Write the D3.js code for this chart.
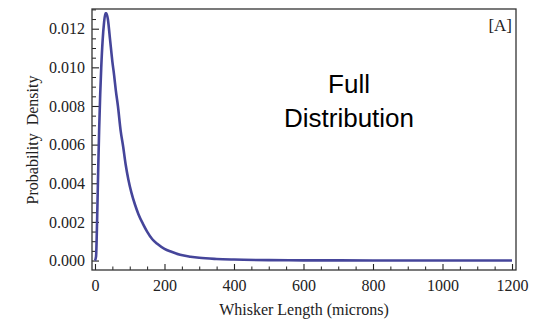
<!DOCTYPE html>
<html>
<head>
<meta charset="utf-8">
<script src="https://cdn.jsdelivr.net/npm/d3@7"></script>
<style>
  html, body { margin: 0; padding: 0; background: #fff; }
  svg { display: block; }
</style>
</head>
<body>
<svg id="chart" width="534" height="324"></svg>
<script>
// Whisker length density curve
const lengths = [0, 3, 6, 9, 12, 15, 18, 22, 26, 30, 33, 37, 43, 50, 55, 60, 66, 74, 81, 88, 96, 105, 115, 125, 138, 150, 165, 180, 200, 220, 245, 275, 300, 350, 400, 500, 600, 800, 1000, 1200];
const density = [0, 0.0002, 0.002, 0.0045, 0.0068, 0.0086, 0.0100, 0.0114, 0.0123, 0.0128, 0.0128, 0.0125, 0.0115, 0.0103, 0.0096, 0.0088, 0.0080, 0.0067, 0.0059, 0.0050, 0.0042, 0.0035, 0.0029, 0.0024, 0.0019, 0.0015, 0.0011, 0.00085, 0.0006, 0.00045, 0.0003, 0.0002, 0.00014, 0.00008, 0.00005, 0.00002, 0.00001, 0.000004, 0.000001, 0];

const xMajor = [0, 200, 400, 600, 800, 1000, 1200];
const yMajor = [0, 0.002, 0.004, 0.006, 0.008, 0.010, 0.012];
const xTitle = "Whisker Length (microns)";
const yTitle = "Probability\u00a0\u00a0Density";
const panelTag = "[A]";
const noteLines = ["Full", "Distribution"];

const svg = d3.select("#chart");
const frame = { left: 92, right: 516, top: 9, bottom: 270 };

const x = d3.scaleLinear().domain([-8.6, 1211.5]).range([frame.left, frame.right]);
const y = d3.scaleLinear().domain([-0.00049, 0.01302]).range([frame.bottom, frame.top]);

const serif = "'Liberation Serif', 'Times New Roman', serif";
const ink = "#222";

// Minor tick positions
const xMinor = d3.range(0, 1201, 50).filter(v => v % 200 !== 0);
const yMinor = d3.range(0, 0.01301, 0.0005).filter(v => Math.abs(Math.round(v / 0.002) * 0.002 - v) > 1e-9);

const g = svg.append("g");

// Bottom axis: ticks point into the plot
const xAxis = d3.axisBottom(x).tickValues(xMajor).tickSize(-6).tickPadding(12).tickFormat(d3.format("d"));
const xg = g.append("g").attr("transform", `translate(0,${frame.bottom})`).call(xAxis);
xg.select(".domain").remove();
xg.selectAll(".tick line").attr("stroke", ink).attr("stroke-width", 1.1);
xg.selectAll(".tick text").attr("font-family", serif).attr("font-size", 16).attr("fill", ink).attr("dy", "0.55em");

const xMin = d3.axisBottom(x).tickValues(xMinor).tickSize(-3.5).tickFormat("");
const xmg = g.append("g").attr("transform", `translate(0,${frame.bottom})`).call(xMin);
xmg.select(".domain").remove();
xmg.selectAll(".tick line").attr("stroke", ink).attr("stroke-width", 1);

// Left axis: ticks point into the plot
const yAxis = d3.axisLeft(y).tickValues(yMajor).tickSize(-7).tickPadding(7).tickFormat(d3.format(".3f"));
const yg = g.append("g").attr("transform", `translate(${frame.left},0)`).call(yAxis);
yg.select(".domain").remove();
yg.selectAll(".tick line").attr("stroke", ink).attr("stroke-width", 1.1);
yg.selectAll(".tick text").attr("font-family", serif).attr("font-size", 16).attr("fill", ink);

const yMin = d3.axisLeft(y).tickValues(yMinor).tickSize(-4).tickFormat("");
const ymg = g.append("g").attr("transform", `translate(${frame.left},0)`).call(yMin);
ymg.select(".domain").remove();
ymg.selectAll(".tick line").attr("stroke", ink).attr("stroke-width", 1);

// Density curve
const pts = lengths.map((v, i) => [v, density[i]]);
const line = d3.line().x(d => x(d[0])).y(d => y(d[1])).curve(d3.curveMonotoneX);
svg.append("defs").append("clipPath").attr("id", "plotClip")
  .append("rect").attr("x", frame.left).attr("y", frame.top - 3)
  .attr("width", frame.right - frame.left).attr("height", frame.bottom - frame.top + 3);
svg.append("path").datum(pts)
  .attr("clip-path", "url(#plotClip)")
  .attr("d", line)
  .attr("fill", "none")
  .attr("stroke", "#45459a")
  .attr("stroke-width", 2.6)
  .attr("stroke-linejoin", "round");

// Frame
svg.append("rect")
  .attr("x", frame.left).attr("y", frame.top)
  .attr("width", frame.right - frame.left).attr("height", frame.bottom - frame.top)
  .attr("fill", "none").attr("stroke", "#333").attr("stroke-width", 1.3);

// Axis titles
svg.append("text")
  .attr("x", (frame.left + frame.right) / 2 + 0).attr("y", 315)
  .attr("text-anchor", "middle")
  .attr("font-family", serif).attr("font-size", 16).attr("fill", ink)
  .text(xTitle);

svg.append("text")
  .attr("transform", `translate(38,140) rotate(-90)`)
  .attr("text-anchor", "middle")
  .attr("font-family", serif).attr("font-size", 16).attr("fill", ink)
  .text(yTitle);

// Panel tag
svg.append("text")
  .attr("x", 512).attr("y", 31)
  .attr("text-anchor", "end")
  .attr("font-family", serif).attr("font-size", 17).attr("fill", ink)
  .text(panelTag);

// Annotation
const note = svg.append("text")
  .attr("text-anchor", "middle")
  .attr("font-family", "'Liberation Sans', Arial, sans-serif")
  .attr("font-size", 26).attr("fill", "#000");
note.selectAll("tspan").data(noteLines).join("tspan")
  .attr("x", 349).attr("y", (d, i) => 93 + i * 34)
  .text(d => d);
</script>
</body>
</html>
